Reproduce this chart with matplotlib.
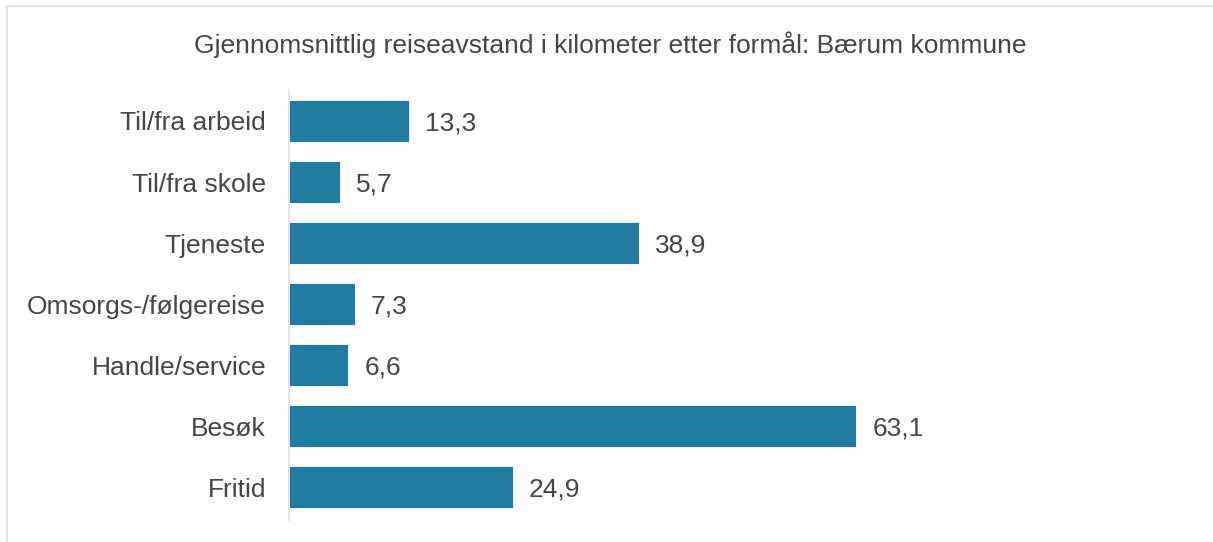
import matplotlib.pyplot as plt
from matplotlib.patches import Rectangle

categories = ["Til/fra arbeid", "Til/fra skole", "Tjeneste", "Omsorgs-/følgereise",
              "Handle/service", "Besøk", "Fritid"]
values = [13.3, 5.7, 38.9, 7.3, 6.6, 63.1, 24.9]
title = "Gjennomsnittlig reiseavstand i kilometer etter formål: Bærum kommune"

plt.rcParams['font.family'] = ['Liberation Sans', 'DejaVu Sans']

fig = plt.figure(figsize=(12.13, 5.42), dpi=100)
ax = fig.add_axes([289 / 1213, 1 - 520 / 542, 0.7410, (520 - 90) / 542])

bar_color = "#1f7ba2"
txt_color = "#454545"
line_color = "#e8dce2"
fs = 19

ypos = list(range(len(categories)))
ax.barh(ypos, values, height=0.69, color=bar_color, edgecolor="white", linewidth=0.6)
for y, v in zip(ypos, values):
    ax.text(v + 1.8, y, f"{v:.1f}".replace(".", ","), va="center_baseline", ha="left",
            fontsize=fs, color=txt_color)

ax.set_xlim(0, 100)
ax.set_ylim(6.54, -0.508)
ax.set_yticks(ypos)
ax.set_yticklabels(categories, fontsize=fs, color=txt_color)
ax.tick_params(axis="y", length=0, pad=16.5)
ax.set_xticks([])
for s in ["top", "right", "bottom"]:
    ax.spines[s].set_visible(False)
ax.spines["left"].set_color(line_color)
ax.spines["left"].set_linewidth(1.2)

fig.text(0.503, 1 - 45 / 542, title, ha="center", va="center", fontsize=fs, color=txt_color)

# outer frame, runs off the right and bottom edge
fig.patches.append(Rectangle((7 / 1213, -0.1), 1.2, 1 - 6 / 542 + 0.1, transform=fig.transFigure,
                             fill=False, edgecolor=line_color, linewidth=1.2))

fig.savefig("out.png", dpi=100)
